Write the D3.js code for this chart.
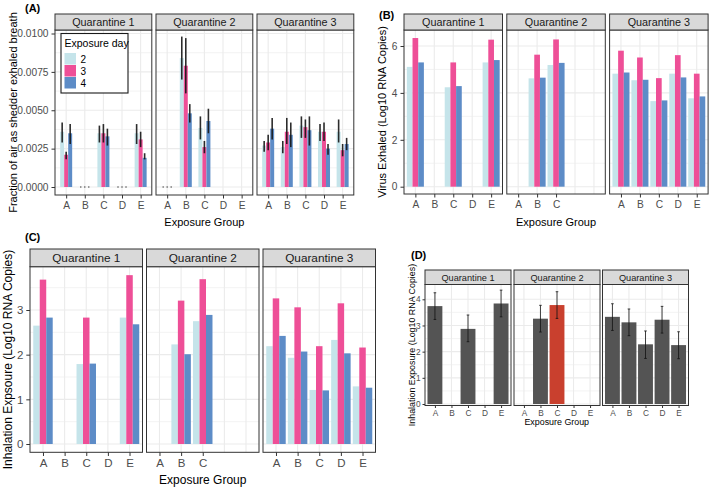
<!DOCTYPE html>
<html><head><meta charset="utf-8">
<script src="https://cdn.jsdelivr.net/npm/d3@7"></script>
<style>
body{margin:0;background:#fff}
svg{display:block}
text{font-family:"Liberation Sans",Arial,Helvetica,sans-serif}
</style>
</head><body>
<svg id="c" width="709" height="487"></svg>
<script>
// ---------------- DATA ----------------
const groups = ["A","B","C","D","E"];
const quarantines = ["Quarantine 1","Quarantine 2","Quarantine 3"];
const days = ["2","3","4"];
// each array: Q1 A..E, Q2 A..E, Q3 A..E  (null = no data)

// (A) Fraction of air as shedder exhaled breath
const fracDay2 = [0.0036,0,0.0035,0,0.0035, 0,0.0084,0.00385,null,null, 0.0027,0.0026,0.0040,0.0036,0.0036];
const fracDay3 = [0.0021,0,0.0035,0,0.0031, 0,0.0079,0.0026,null,null, 0.0029,0.0036,0.0039,0.0036,0.0024];
const fracDay4 = [0.0035,0,0.0033,0,0.0019, 0,0.0048,0.0043,null,null, 0.0038,0.0034,0.0037,0.0025,0.0028];
const fracLoDay2 = [0.0029,0,0.0029,0,0.0028, 0,0.0070,0.0031,null,null, 0.0023,0.0022,0.0032,0.0030,0.0029];
const fracHiDay2 = [0.0042,0,0.0040,0,0.0041, 0,0.0098,0.0046,null,null, 0.0030,0.0030,0.0046,0.0041,0.0044];
const fracLoDay3 = [0.0018,0,0.0029,0,0.0026, 0,0.0061,0.0022,null,null, 0.0024,0.0028,0.0032,0.0030,0.0020];
const fracHiDay3 = [0.0023,0,0.0041,0,0.0036, 0,0.0097,0.0030,null,null, 0.0034,0.0045,0.0044,0.0042,0.0028];
const fracLoDay4 = [0.0028,0,0.0027,0,0.0018, 0,0.0042,0.0035,null,null, 0.0031,0.0026,0.0027,0.0021,0.0024];
const fracHiDay4 = [0.0041,0,0.0038,0,0.0022, 0,0.0054,0.0051,null,null, 0.0045,0.0042,0.0046,0.0028,0.0032];

// (B) Virus exhaled (log10 RNA copies)
const virusDay2 = [5.11,null,4.24,null,5.30, null,4.62,5.19,null,null, 4.82,4.54,3.65,4.82,3.77];
const virusDay3 = [6.34,null,5.30,null,6.27, null,5.63,6.28,null,null, 5.80,5.51,4.63,5.61,4.82];
const virusDay4 = [5.30,null,4.29,null,5.40, null,4.65,5.28,null,null, 4.87,4.56,3.68,4.66,3.85];

// (C) Inhalation exposure by day (log10 RNA copies)
const inhalDay2 = [2.65,null,1.79,null,2.83, null,2.23,2.75,null,null, 2.19,1.93,1.21,2.33,1.29];
const inhalDay3 = [3.68,null,2.83,null,3.78, null,3.21,3.69,null,null, 3.26,3.06,2.19,3.15,2.16];
const inhalDay4 = [2.83,null,1.80,null,2.68, null,2.01,2.89,null,null, 2.42,2.07,1.20,2.03,1.26];

// (D) Inhalation exposure, mean with error bars
const inhalMean = [3.74,null,2.87,null,3.84, null,3.26,3.78,null,null, 3.33,3.12,2.28,3.22,2.25];
const inhalLow  = [3.23,null,2.38,null,3.33, null,2.75,3.27,null,null, 2.81,2.61,1.74,2.71,1.73];
const inhalHigh = [4.25,null,3.40,null,4.35, null,3.77,4.29,null,null, 3.83,3.63,2.79,3.73,2.76];
const highlighted = ["Quarantine 2|C"];

const ticksA = [0,0.0025,0.005,0.0075,0.01];
const ticksB = [0,2,4,6];
const ticksC = [0,1,2,3];
const ticksD = [0,1,2,3,4];
// x labels shown per facet in panels B and C (Q2 has no D/E labels)
const labelsBC = [["A","B","C","D","E"],["A","B","C"],["A","B","C","D","E"]];

// ---------------- STYLE ----------------
const dayColors = ["#c5e4ea","#ee4f97","#5d8cc7"];
const grayFill = "#545454", redFill = "#c9402e";
const gridCol = "#ebebeb", borderCol = "#333333", stripFill = "#d9d9d9";
const tickTextCol = "#4d4d4d";

const svg = d3.select("#c");

function idx(qi, gi){ return qi*5+gi; }

function drawPanel(o){
  const g = svg.append("g");
  const y = d3.scaleLinear().domain(o.yDomain).range(o.yRange);
  o.lefts.forEach((L, qi) => {
    const R = L + o.w;
    const x = d3.scalePoint().domain(groups).range([L, R]).padding(0.6);
    const pg = g.append("g");
    pg.append("rect").attr("x",L).attr("y",o.panelTop).attr("width",o.w).attr("height",o.panelBottom-o.panelTop).attr("fill","#fff");
    o.yMinor.forEach(v => pg.append("line").attr("x1",L).attr("x2",R).attr("y1",y(v)).attr("y2",y(v)).attr("stroke",gridCol).attr("stroke-width",0.6));
    o.yTicks.forEach(v => pg.append("line").attr("x1",L).attr("x2",R).attr("y1",y(v)).attr("y2",y(v)).attr("stroke",gridCol).attr("stroke-width",1.1));
    groups.forEach(k => pg.append("line").attr("x1",x(k)).attr("x2",x(k)).attr("y1",o.panelTop).attr("y2",o.panelBottom).attr("stroke",gridCol).attr("stroke-width",1.1));
    o.marks(pg, x, y, qi);
    pg.append("rect").attr("x",L).attr("y",o.panelTop).attr("width",o.w).attr("height",o.panelBottom-o.panelTop)
      .attr("fill","none").attr("stroke",borderCol).attr("stroke-width",1);
    pg.append("rect").attr("x",L).attr("y",o.stripTop).attr("width",o.w).attr("height",o.panelTop-o.stripTop)
      .attr("fill",stripFill).attr("stroke",borderCol).attr("stroke-width",1);
    pg.append("text").attr("x",L+o.w/2).attr("y",(o.stripTop+o.panelTop)/2).attr("dy","0.36em")
      .attr("text-anchor","middle").attr("font-size",o.stripFont).attr("fill","#1a1a1a").text(quarantines[qi]);
    const shown = o.xLabels ? o.xLabels[qi] : groups;
    const ax = pg.append("g").attr("transform",`translate(0,${o.panelBottom})`)
      .call(d3.axisBottom(x).tickValues(shown).tickSize(o.tickLen).tickPadding(o.xPad));
    ax.select(".domain").remove();
    ax.selectAll("line").attr("stroke",borderCol);
    ax.selectAll("text").attr("font-size",o.tickFont).attr("fill",tickTextCol).attr("font-family",null);
  });
  const ay = g.append("g").attr("transform",`translate(${o.lefts[0]},0)`)
    .call(d3.axisLeft(y).tickValues(o.yTicks).tickFormat(o.fmt).tickSize(o.tickLen).tickPadding(o.yPad));
  ay.select(".domain").remove();
  ay.selectAll("line").attr("stroke",borderCol);
  ay.selectAll("text").attr("font-size",o.tickFont).attr("fill",tickTextCol).attr("font-family",null);
  g.append("text").attr("transform",`translate(${o.yTitleX},${(o.panelTop+o.panelBottom)/2}) rotate(-90)`)
    .attr("text-anchor","middle").attr("dy","0.36em").attr("font-size",o.titleFont).attr("fill","#000").text(o.yTitle);
  const xMid = (o.lefts[0] + o.lefts[o.lefts.length-1] + o.w)/2;
  g.append("text").attr("x",xMid).attr("y",o.xTitleY).attr("text-anchor","middle")
    .attr("font-size",o.titleFont).attr("fill","#000").text("Exposure Group");
  g.append("text").attr("x",o.tagX).attr("y",o.tagY).attr("font-size",o.tagFont).attr("font-weight","bold").attr("fill","#000").text(o.tag);
}

function dodgedBars(series, frac){
  return function(pg, x, y, qi){
    const step = x.step();
    const bw = step*frac;
    groups.forEach((k, gi) => {
      series.forEach((arr, di) => {
        const v = arr[idx(qi,gi)];
        if (v == null) return;
        const x0 = x(k) + (di-1)*bw - bw/2;
        pg.append("rect").attr("x",x0).attr("y",y(v)).attr("width",bw).attr("height",Math.max(0,y(0)-y(v)))
          .attr("fill",dayColors[di]);
      });
    });
  };
}

// ---------------- PANEL A ----------------
const fracMeans = [fracDay2, fracDay3, fracDay4];
const fracLos = [fracLoDay2, fracLoDay3, fracLoDay4];
const fracHis = [fracHiDay2, fracHiDay3, fracHiDay4];
drawPanel({
  lefts:[55,156,257], w:96.8, stripTop:14, panelTop:30, panelBottom:195,
  yDomain:[0,0.01], yRange:[187,33.5], yTicks:ticksA, yMinor:[0.00125,0.00375,0.00625,0.00875],
  fmt:d3.format(".4f"), tickLen:3.5, xPad:3, yPad:3, tickFont:10.2, stripFont:10.8, titleFont:11,
  yTitle:"Fraction of air as shedder exhaled breath", yTitleX:13, xTitleY:226,
  tag:"(A)", tagX:25, tagY:12, tagFont:11,
  marks:function(pg, x, y, qi){
    const step = x.step(), bw = step*0.215;
    groups.forEach((k, gi) => {
      fracMeans.forEach((arr, di) => {
        const v = arr[idx(qi,gi)];
        if (v == null) return;
        const cx = x(k) + (di-1)*bw;
        pg.append("rect").attr("x",cx-bw/2).attr("y",y(v)).attr("width",bw).attr("height",Math.max(0,y(0)-y(v))).attr("fill",dayColors[di]);
      });
      fracMeans.forEach((arr, di) => {
        const v = arr[idx(qi,gi)];
        if (v == null) return;
        const cx = x(k) + (di-1)*bw;
        const lo = fracLos[di][idx(qi,gi)], hi = fracHis[di][idx(qi,gi)];
        if (lo === hi) {
          pg.append("circle").attr("cx",cx).attr("cy",y(0)).attr("r",0.8).attr("fill","#555");
        } else {
          pg.append("line").attr("x1",cx).attr("x2",cx).attr("y1",y(lo)).attr("y2",y(hi))
            .attr("stroke","#151515").attr("stroke-width",1.6).attr("stroke-opacity",0.9);
        }
      });
    });
  }
});
(function(){
  const lg = svg.append("g");
  lg.append("rect").attr("x",61).attr("y",33.5).attr("width",67).attr("height",59.5).attr("fill","#fff").attr("stroke","#1a1a1a").attr("stroke-width",1.1);
  lg.append("text").attr("x",64.5).attr("y",47).attr("font-size",10.5).attr("fill","#000").text("Exposure day");
  days.forEach((d,i) => {
    lg.append("rect").attr("x",64.5).attr("y",53+i*12).attr("width",11.5).attr("height",11.5).attr("fill",dayColors[i]);
    lg.append("text").attr("x",80.5).attr("y",59+i*12).attr("dy","0.36em").attr("font-size",10).attr("fill","#000").text(d);
  });
})();

// ---------------- PANEL B ----------------
drawPanel({
  lefts:[404,506.8,609.6], w:98.5, stripTop:14, panelTop:30, panelBottom:194,
  yDomain:[0,6], yRange:[186.7,46], yTicks:ticksB, yMinor:[1,3,5],
  fmt:d3.format("d"), tickLen:3.5, xPad:3, yPad:3, tickFont:10.2, stripFont:10.8, titleFont:11,
  yTitle:"Virus Exhaled (Log10 RNA Copies)", yTitleX:382, xTitleY:226,
  tag:"(B)", tagX:379, tagY:19, tagFont:11, xLabels:labelsBC,
  marks:dodgedBars([virusDay2, virusDay3, virusDay4], 0.3)
});

// ---------------- PANEL C ----------------
drawPanel({
  lefts:[30,146.5,263], w:112.5, stripTop:249, panelTop:266.7, panelBottom:452.3,
  yDomain:[0,3], yRange:[444,310], yTicks:ticksC, yMinor:[0.5,1.5,2.5,3.5],
  fmt:d3.format("d"), tickLen:3.7, xPad:3, yPad:3, tickFont:11.5, stripFont:11.8, titleFont:12,
  yTitle:"Inhalation Expsoure (Log10 RNA Copies)", yTitleX:8, xTitleY:484,
  tag:"(C)", tagX:25, tagY:241, tagFont:11, xLabels:labelsBC,
  marks:dodgedBars([inhalDay2, inhalDay3, inhalDay4], 0.3)
});

// ---------------- PANEL D ----------------
drawPanel({
  lefts:[425,514,602.5], w:86, stripTop:270, panelTop:284.5, panelBottom:405.5,
  yDomain:[0,4], yRange:[404,299.3], yTicks:ticksD, yMinor:[0.5,1.5,2.5,3.5],
  fmt:d3.format("d"), tickLen:2.5, xPad:2, yPad:2, tickFont:8.3, stripFont:9.2, titleFont:8.9,
  yTitle:"Inhalation Exposure (Log10 RNA Copies)", yTitleX:411.5, xTitleY:425,
  tag:"(D)", tagX:411, tagY:259, tagFont:11,
  marks:function(pg, x, y, qi){
    const bw = x.step()*0.9;
    groups.forEach((k, gi) => {
      const v = inhalMean[idx(qi,gi)];
      if (v == null) return;
      const hl = highlighted.indexOf(quarantines[qi]+"|"+k) >= 0;
      pg.append("rect").attr("x",x(k)-bw/2).attr("y",y(v)).attr("width",bw).attr("height",y(0)-y(v))
        .attr("fill",hl?redFill:grayFill);
      const lo = inhalLow[idx(qi,gi)], hi = inhalHigh[idx(qi,gi)];
      const cap = 1.3;
      pg.append("path").attr("d",`M${x(k)-cap},${y(hi)}H${x(k)+cap}M${x(k)},${y(hi)}V${y(lo)}M${x(k)-cap},${y(lo)}H${x(k)+cap}`)
        .attr("stroke","#111").attr("stroke-width",0.8).attr("fill","none");
    });
  }
});
</script>
</body></html>
